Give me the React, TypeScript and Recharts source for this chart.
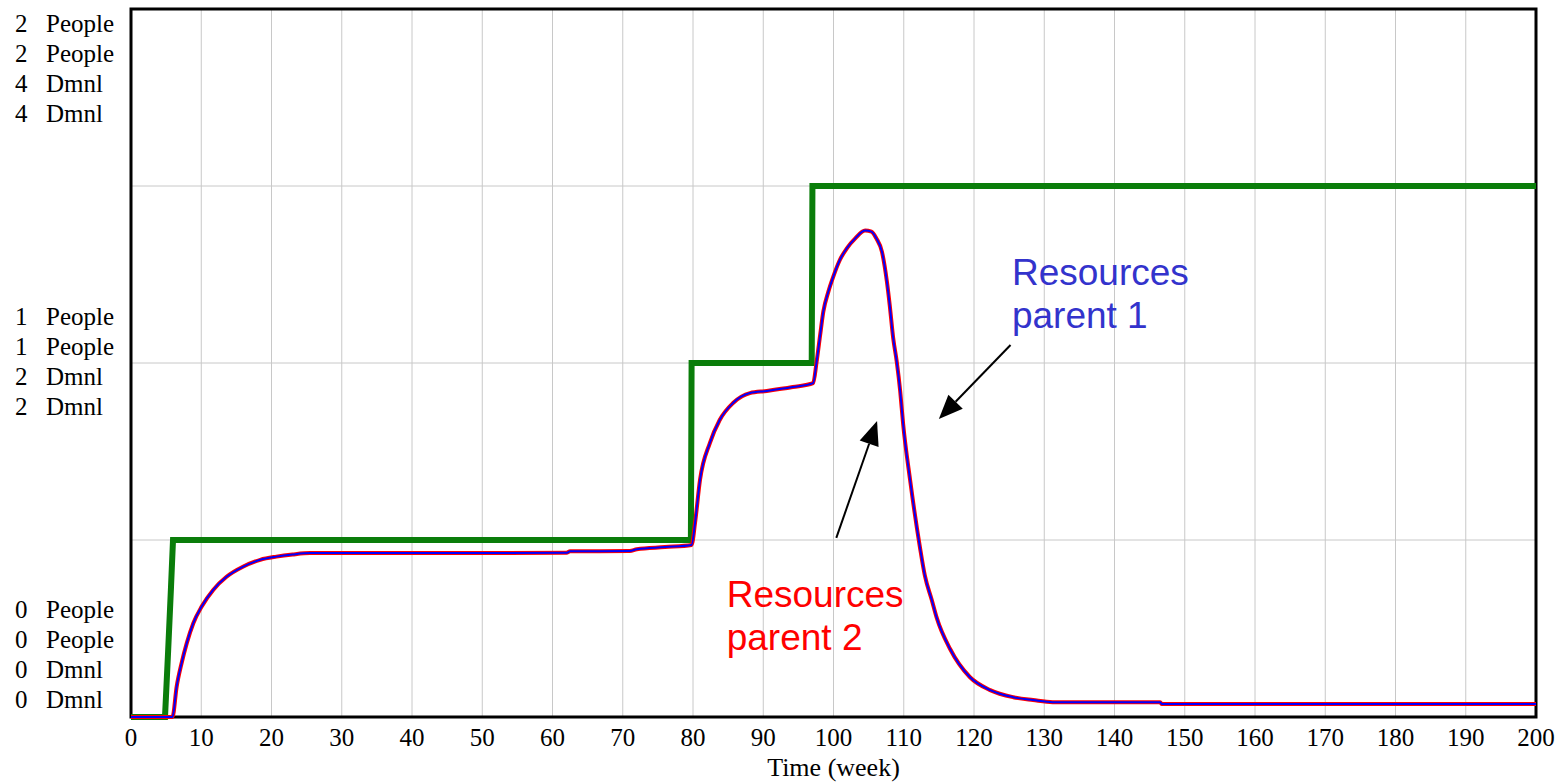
import { LineChart, Line, XAxis, YAxis, CartesianGrid, ReferenceArea, ReferenceLine, ReferenceDot } from 'recharts';

const timeTicks = [0, 10, 20, 30, 40, 50, 60, 70, 80, 90, 100, 110, 120, 130, 140, 150, 160, 170, 180, 190, 200];
const peopleTicks = [0, 1, 2];
const dmnlTicks = [0, 2, 4];

// resources curves (People)
const resTime = [0, 5.9, 6.5, 7.2, 7.93, 8.87, 10.06, 11.7, 13.6, 16, 18.4, 20.7, 23, 25.5, 40, 62, 62.5, 71, 72, 76, 79.8, 80.3, 81, 82.4, 83.8, 85.7, 88.1, 90.5, 94.2, 97.1, 97.6, 98.1, 98.55, 99.26, 99.97, 100.9, 101.9, 103.1, 104.5, 105.4, 106.1, 106.9, 107.6, 108, 108.5, 109, 109.5, 109.9, 110.9, 112.3, 113, 114, 114.7, 116.6, 119.4, 122.3, 125.6, 128.4, 131.2, 146.5, 146.7, 200];
const resParent1 = [0, 0, 0.086, 0.152, 0.208, 0.265, 0.312, 0.359, 0.396, 0.425, 0.444, 0.453, 0.459, 0.463, 0.463, 0.464, 0.468, 0.469, 0.474, 0.48, 0.486, 0.55, 0.67, 0.774, 0.839, 0.887, 0.915, 0.921, 0.932, 0.943, 1.004, 1.079, 1.145, 1.201, 1.244, 1.291, 1.324, 1.352, 1.374, 1.371, 1.352, 1.314, 1.23, 1.164, 1.07, 1.004, 0.919, 0.83, 0.67, 0.48, 0.4, 0.33, 0.28, 0.192, 0.113, 0.076, 0.056, 0.048, 0.042, 0.042, 0.037, 0.037];
const resParent2 = [0, 0, 0.086, 0.152, 0.208, 0.265, 0.312, 0.359, 0.396, 0.425, 0.444, 0.453, 0.459, 0.463, 0.463, 0.464, 0.468, 0.469, 0.474, 0.48, 0.486, 0.55, 0.67, 0.774, 0.839, 0.887, 0.915, 0.921, 0.932, 0.943, 1.004, 1.079, 1.145, 1.201, 1.244, 1.291, 1.324, 1.352, 1.374, 1.371, 1.352, 1.314, 1.23, 1.164, 1.07, 1.004, 0.919, 0.83, 0.67, 0.48, 0.4, 0.33, 0.28, 0.192, 0.113, 0.076, 0.056, 0.048, 0.042, 0.042, 0.037, 0.037];

// step series (Dmnl)
const dmnlTime = [0, 4.84, 5.27, 5.69, 5.98, 79.7, 79.8, 96.9, 97.0, 200];
const dmnlValue = [0, 0, 0.36, 0.73, 1, 1, 2, 2, 3, 3];

const parent1Data = resTime.map((t, i) => ({ t, v: resParent1[i] }));
const parent2Data = resTime.map((t, i) => ({ t, v: resParent2[i] }));
const dmnlData = dmnlTime.map((t, i) => ({ t, v: dmnlValue[i] }));

const serif = '"Liberation Serif", "Times New Roman", serif';
const sans = '"Liberation Sans", Arial, sans-serif';

function PeopleTick(props: any) {
  const { y, payload } = props;
  const val = payload.value;
  const idx = peopleTicks.indexOf(val);
  const d = dmnlTicks[idx];
  const base = val === 0 ? -99 : val === 2 ? 23 : -38;
  const rows = [[val, 'People'], [val, 'People'], [d, 'Dmnl'], [d, 'Dmnl']];
  return (
    <g>
      {rows.map((r, i) => (
        <g key={i}>
          <text x={15} y={y + base + 30 * i} fontSize={25} fontFamily={serif} fill="#000">{r[0]}</text>
          <text x={46} y={y + base + 30 * i} fontSize={25} fontFamily={serif} fill="#000">{r[1]}</text>
        </g>
      ))}
    </g>
  );
}

function Arrow(props: any) {
  const { x1, y1, x2, y2 } = props;
  const dx = x2 - x1;
  const dy = y2 - y1;
  const len = Math.sqrt(dx * dx + dy * dy);
  const ux = dx / len;
  const uy = dy / len;
  const hl = 24;
  const hw = 10;
  const bx = x2 - ux * hl;
  const by = y2 - uy * hl;
  return (
    <g>
      <line x1={x1} y1={y1} x2={bx} y2={by} stroke="#000" strokeWidth={2} />
      <polygon
        points={`${x2},${y2} ${bx - uy * hw},${by + ux * hw} ${bx + uy * hw},${by - ux * hw}`}
        fill="#000"
      />
    </g>
  );
}

function Note(color: string, lines: string[]) {
  return (props: any) => (
    <text x={props.cx} y={props.cy} fontSize={37} fontFamily={sans} fill={color}>
      {lines.map((l, i) => (
        <tspan key={i} x={props.cx} dy={i === 0 ? 0 : 43}>{l}</tspan>
      ))}
    </text>
  );
}

export default function App() {
  return (
    <div style={{ position: 'absolute', left: 0, top: 0, width: 1557, height: 783, background: '#fff' }}>
      <LineChart width={1557} height={783} margin={{ top: 9, right: 21, bottom: 0, left: 0 }}>
        <CartesianGrid stroke="#c8c8c8" strokeWidth={1} horizontalValues={[0.5, 1, 1.5]} verticalValues={timeTicks} />
        <XAxis
          type="number"
          dataKey="t"
          domain={[0, 200]}
          ticks={timeTicks}
          interval={0}
          height={66}
          axisLine={false}
          tickLine={false}
          tickSize={6}
          tickMargin={5}
          tick={{ fill: '#000', fontSize: 25, fontFamily: serif }}
          label={{ value: 'Time (week)', position: 'insideBottom', offset: 7, fill: '#000', fontSize: 26, fontFamily: serif }}
          allowDuplicatedCategory={false}
        />
        <YAxis
          type="number"
          domain={[0, 2]}
          ticks={peopleTicks}
          width={131}
          axisLine={false}
          tickLine={false}
          tick={(p: any) => <PeopleTick {...p} />}
        />
        <YAxis yAxisId="dmnl" type="number" domain={[0, 4]} ticks={dmnlTicks} hide />
        <Line data={dmnlData} dataKey="v" yAxisId="dmnl" type="linear" stroke="#0a7d0a" strokeWidth={6} dot={false} isAnimationActive={false} />
        <Line data={parent2Data} dataKey="v" type="monotone" stroke="#ff0000" strokeWidth={4} dot={false} isAnimationActive={false} />
        <Line data={parent1Data} dataKey="v" type="monotone" stroke="#0000ff" strokeWidth={2} dot={false} isAnimationActive={false} />
        <ReferenceLine segment={[{ x: 125.2, y: 1.051 }, { x: 115, y: 0.842 }]} shape={Arrow} ifOverflow="visible" />
        <ReferenceLine segment={[{ x: 100.4, y: 0.506 }, { x: 106.2, y: 0.836 }]} shape={Arrow} ifOverflow="visible" />
        <ReferenceDot x={125.4} y={1.22} r={0} shape={Note('#3333cc', ['Resources', 'parent 1'])} ifOverflow="visible" />
        <ReferenceDot x={84.8} y={0.311} r={0} shape={Note('#ff0000', ['Resources', 'parent 2'])} ifOverflow="visible" />
        <ReferenceArea x1={0} x2={200} y1={0} y2={2} fill="none" fillOpacity={0} stroke="#000" strokeWidth={3} ifOverflow="visible" />
      </LineChart>
    </div>
  );
}
